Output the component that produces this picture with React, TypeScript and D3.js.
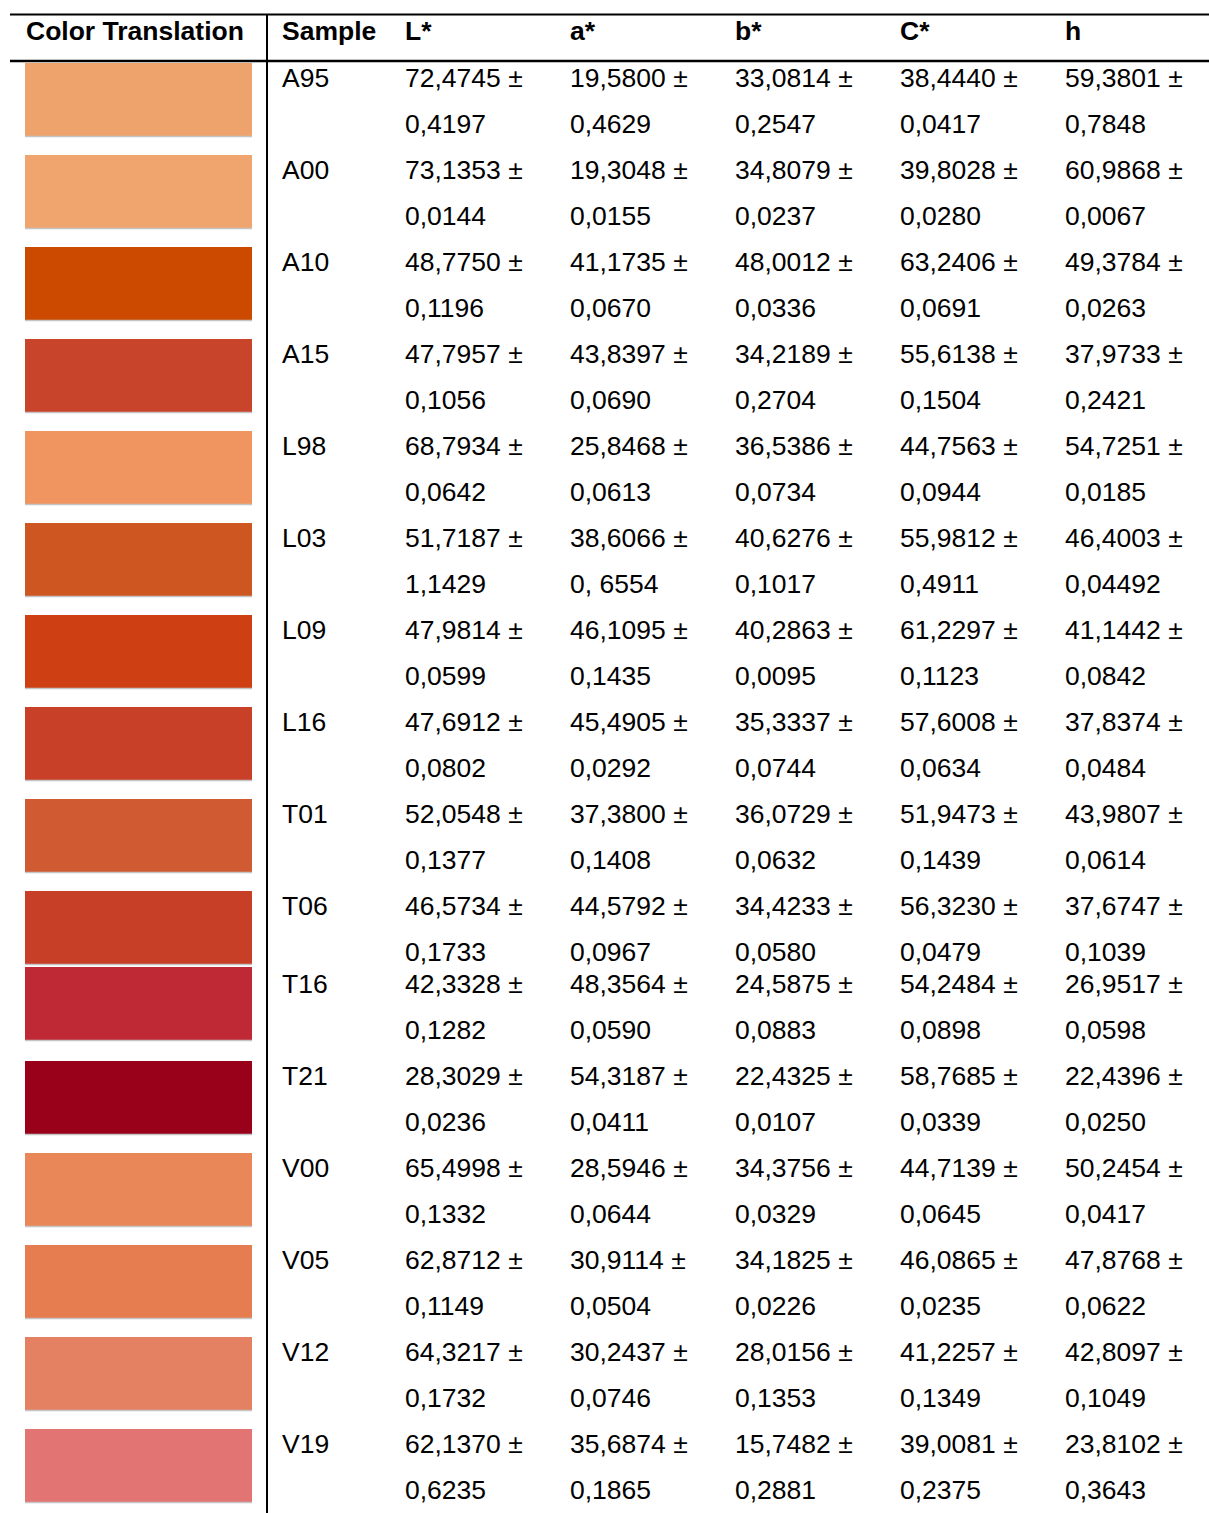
import React from "react";
import * as d3 from "d3";

const samples = ["A95","A00","A10","A15","L98","L03","L09","L16","T01","T06","T16","T21","V00","V05","V12","V19"];
const swatchColors = ["#EEA36D","#F0A56E","#CC4A00","#C8452B","#F0955F","#CE5621","#CE4013","#C94029","#D05A32","#C73F26","#BE2935","#99001A","#E98759","#E57D51","#E48163","#E27474"];
const columns = ["L*","a*","b*","C*","h"];
const lMean = ["72,4745","73,1353","48,7750","47,7957","68,7934","51,7187","47,9814","47,6912","52,0548","46,5734","42,3328","28,3029","65,4998","62,8712","64,3217","62,1370"];
const lSd = ["0,4197","0,0144","0,1196","0,1056","0,0642","1,1429","0,0599","0,0802","0,1377","0,1733","0,1282","0,0236","0,1332","0,1149","0,1732","0,6235"];
const aMean = ["19,5800","19,3048","41,1735","43,8397","25,8468","38,6066","46,1095","45,4905","37,3800","44,5792","48,3564","54,3187","28,5946","30,9114","30,2437","35,6874"];
const aSd = ["0,4629","0,0155","0,0670","0,0690","0,0613","0, 6554","0,1435","0,0292","0,1408","0,0967","0,0590","0,0411","0,0644","0,0504","0,0746","0,1865"];
const bMean = ["33,0814","34,8079","48,0012","34,2189","36,5386","40,6276","40,2863","35,3337","36,0729","34,4233","24,5875","22,4325","34,3756","34,1825","28,0156","15,7482"];
const bSd = ["0,2547","0,0237","0,0336","0,2704","0,0734","0,1017","0,0095","0,0744","0,0632","0,0580","0,0883","0,0107","0,0329","0,0226","0,1353","0,2881"];
const cMean = ["38,4440","39,8028","63,2406","55,6138","44,7563","55,9812","61,2297","57,6008","51,9473","56,3230","54,2484","58,7685","44,7139","46,0865","41,2257","39,0081"];
const cSd = ["0,0417","0,0280","0,0691","0,1504","0,0944","0,4911","0,1123","0,0634","0,1439","0,0479","0,0898","0,0339","0,0645","0,0235","0,1349","0,2375"];
const hMean = ["59,3801","60,9868","49,3784","37,9733","54,7251","46,4003","41,1442","37,8374","43,9807","37,6747","26,9517","22,4396","50,2454","47,8768","42,8097","23,8102"];
const hSd = ["0,7848","0,0067","0,0263","0,2421","0,0185","0,04492","0,0842","0,0484","0,0614","0,1039","0,0598","0,0250","0,0417","0,0622","0,1049","0,3643"];

const means = [lMean, aMean, bMean, cMean, hMean];
const sds = [lSd, aSd, bSd, cSd, hSd];

export default function App() {
  const W = 1209, H = 1513;
  const font = "'Liberation Sans', Arial, sans-serif";
  const fs = 26.5;
  // row positions (center of first text line)
  const rowScale = d3.scaleLinear().domain([0, samples.length - 1]).range([78, 78 + 92 * (samples.length - 1)]);
  const rowY = (i: number) => rowScale(i) - (i >= 10 ? 14 : 0);
  const colX = d3.scalePoint<string>().domain(columns).range([405, 1065]);
  const base = 8.8; // center -> baseline offset
  const lineGap = 46;

  return (
    <svg width={W} height={H} style={{ position: "absolute", left: 0, top: 0, background: "#fff" }} fontFamily={font}>
      <rect x={0} y={0} width={W} height={H} fill="#fff" />
      {/* rules */}
      <line x1={10} x2={W} y1={14.5} y2={14.5} stroke="#000" strokeWidth={2} />
      <line x1={10} x2={W} y1={61} y2={61} stroke="#000" strokeWidth={2.5} />
      <line x1={267} x2={267} y1={14} y2={H} stroke="#000" strokeWidth={2} />
      {/* header */}
      <g fontWeight="bold" fontSize={fs} fill="#000">
        <text x={26} y={31 + base}>Color Translation</text>
        <text x={282} y={31 + base}>Sample</text>
        {columns.map((c) => (
          <text key={c} x={colX(c)} y={31 + base}>{c}</text>
        ))}
      </g>
      {/* rows */}
      {samples.map((s, i) => {
        const cy = rowY(i);
        const top = cy - (i === 10 ? 17 : 15);
        return (
          <g key={s}>
            <rect x={25} y={top} width={227} height={73} fill={swatchColors[i]} />
            <line x1={25} x2={252} y1={top + 73.5} y2={top + 73.5} stroke="#c4c4c4" strokeWidth={1.5} />
            <text x={282} y={cy + base} fontSize={fs} fill="#000">{s}</text>
            {columns.map((c, j) => (
              <g key={c} fontSize={fs} fill="#000">
                <text x={colX(c)} y={cy + base}>{means[j][i] + " ±"}</text>
                <text x={colX(c)} y={cy + lineGap + base}>{sds[j][i]}</text>
              </g>
            ))}
          </g>
        );
      })}
    </svg>
  );
}
